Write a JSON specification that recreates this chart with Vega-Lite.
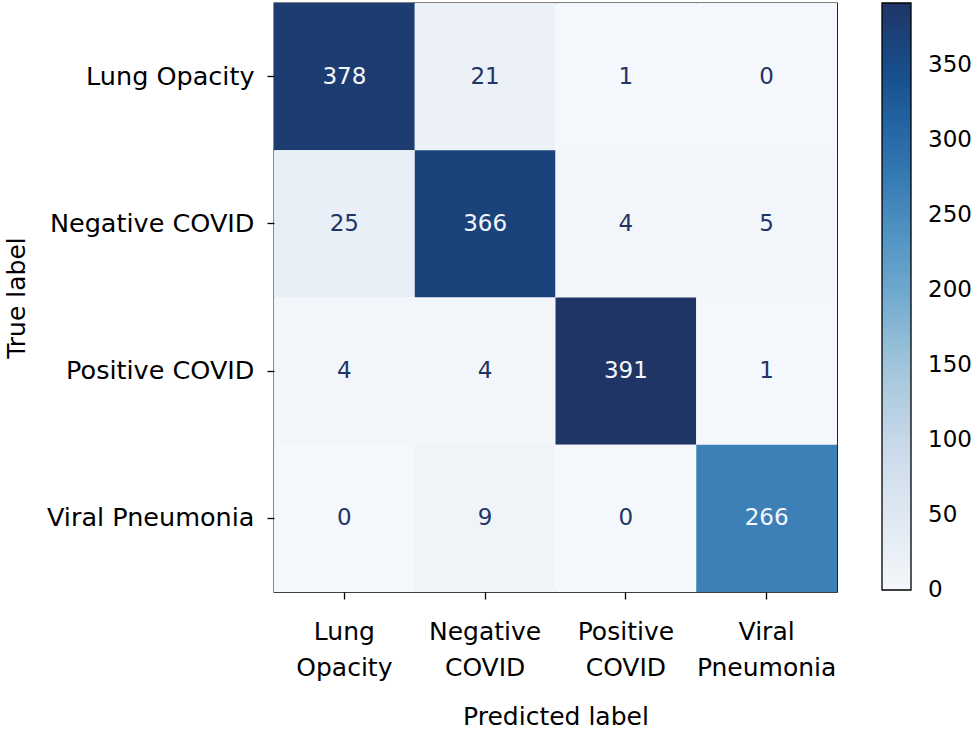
{
  "$schema": "https://vega.github.io/schema/vega-lite/v6.json",
  "width": 563,
  "height": 589,
  "autosize": {"type": "none"},
  "padding": {"left": 274, "top": 3, "right": 143, "bottom": 139},
  "background": "white",
  "config": {
    "font": "DejaVu Sans",
    "view": {"stroke": "black", "strokeWidth": 1.3},
    "axis": {
      "domain": false,
      "grid": false,
      "labelColor": "#000",
      "titleColor": "#000",
      "tickColor": "#000",
      "tickSize": 7,
      "tickWidth": 1.3,
      "labelFontSize": 25,
      "labelLimit": 0,
      "titleFontSize": 25,
      "titleFontWeight": "normal",
      "labelAngle": 0
    },
    "legend": {
      "labelFontSize": 23,
      "labelColor": "#000"
    }
  },
  "data": {
    "values": [
      {"actual": "Lung Opacity", "predicted": "Lung Opacity", "count": 378},
      {"actual": "Lung Opacity", "predicted": "Negative COVID", "count": 21},
      {"actual": "Lung Opacity", "predicted": "Positive COVID", "count": 1},
      {"actual": "Lung Opacity", "predicted": "Viral Pneumonia", "count": 0},
      {"actual": "Negative COVID", "predicted": "Lung Opacity", "count": 25},
      {"actual": "Negative COVID", "predicted": "Negative COVID", "count": 366},
      {"actual": "Negative COVID", "predicted": "Positive COVID", "count": 4},
      {"actual": "Negative COVID", "predicted": "Viral Pneumonia", "count": 5},
      {"actual": "Positive COVID", "predicted": "Lung Opacity", "count": 4},
      {"actual": "Positive COVID", "predicted": "Negative COVID", "count": 4},
      {"actual": "Positive COVID", "predicted": "Positive COVID", "count": 391},
      {"actual": "Positive COVID", "predicted": "Viral Pneumonia", "count": 1},
      {"actual": "Viral Pneumonia", "predicted": "Lung Opacity", "count": 0},
      {"actual": "Viral Pneumonia", "predicted": "Negative COVID", "count": 9},
      {"actual": "Viral Pneumonia", "predicted": "Positive COVID", "count": 0},
      {"actual": "Viral Pneumonia", "predicted": "Viral Pneumonia", "count": 266}
    ]
  },
  "encoding": {
    "x": {
      "field": "predicted",
      "type": "nominal",
      "sort": ["Lung Opacity", "Negative COVID", "Positive COVID", "Viral Pneumonia"],
      "scale": {"paddingInner": 0, "paddingOuter": 0},
      "axis": {
        "title": "Predicted label",
        "labelExpr": "split(datum.label, ' ')",
        "labelLineHeight": 36,
        "labelPadding": 20,
        "titlePadding": 24
      }
    },
    "y": {
      "field": "actual",
      "type": "nominal",
      "sort": ["Lung Opacity", "Negative COVID", "Positive COVID", "Viral Pneumonia"],
      "scale": {"paddingInner": 0, "paddingOuter": 0},
      "axis": {
        "title": "True label",
        "labelFontSize": 25.5,
        "labelPadding": 13,
        "titlePadding": 45
      }
    }
  },
  "layer": [
    {
      "mark": {"type": "rect"},
      "encoding": {
        "color": {
          "field": "count",
          "type": "quantitative",
          "scale": {
            "domain": [0, 391],
            "range": ["#f4f7fb", "#dfe8f2", "#c8d9ea", "#a3c6db", "#72abcf", "#4a8ec0", "#2b6eac", "#17508f", "#1f3566"],
            "interpolate": "rgb"
          },
          "legend": {
            "title": null,
            "orient": "none",
            "legendX": 608,
            "legendY": 0,
            "direction": "vertical",
            "gradientLength": 587,
            "gradientThickness": 29,
            "gradientStrokeColor": "#000",
            "gradientStrokeWidth": 1.3,
            "labelOffset": 17,
            "values": [0, 50, 100, 150, 200, 250, 300, 350],
            "encode": {
              "labels": {
                "update": {"baseline": {"value": "middle"}}
              }
            }
          }
        }
      }
    },
    {
      "mark": {"type": "text", "fontSize": 23},
      "encoding": {
        "text": {"field": "count", "type": "quantitative"},
        "color": {
          "condition": {"test": "datum.count > 195.5", "value": "#f4f7fb"},
          "value": "#1f3566"
        }
      }
    }
  ]
}
